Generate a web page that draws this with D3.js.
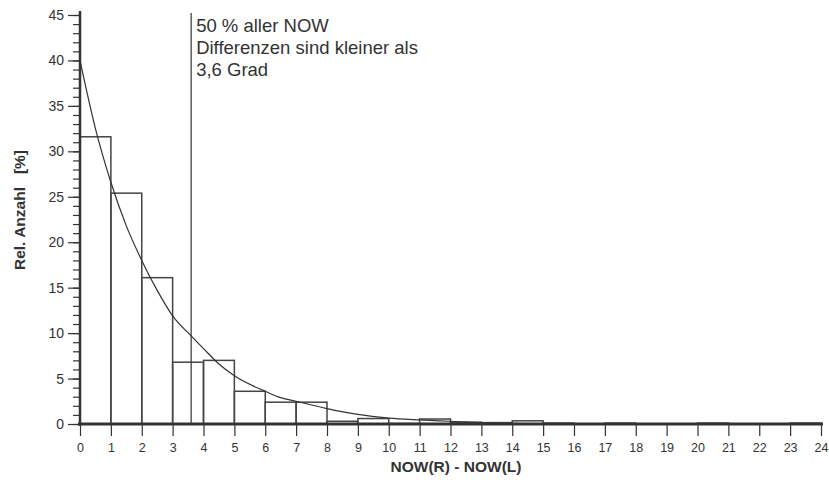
<!DOCTYPE html>
<html><head><meta charset="utf-8">
<script src="https://cdn.jsdelivr.net/npm/d3@7"></script>
<style>
body{margin:0;background:#fff;}
svg{display:block;font-family:"Liberation Sans",Arial,sans-serif;}
</style></head>
<body><svg id="c" width="829" height="480"></svg>
<script>
// bin start values (width 1) and relative counts in %
const binStarts = [0,1,2,3,4,5,6,7,8,9,10,11,12,13,14,15,16,17,18,19,20,21,22,23];
const binValues = [31.6,25.4,16.1,6.8,7.0,3.6,2.4,2.4,0.3,0.6,0.05,0.55,0.2,0.15,0.35,0.1,0,0.1,0,0,0.1,0,0,0.1];
// fitted curve
const curveX = [0,0.5,1,1.5,2,2.5,3,3.6,4,4.5,5,6,6.5,7,8,9,10,11,12,13,14,15,16];
const curveY = [40,32.5,26.6,21.8,18.0,14.7,11.9,9.7,8.3,6.6,5.3,3.6,2.9,2.5,1.7,1.05,0.65,0.45,0.3,0.15,0.07,0.02,0];
const xTicks = d3.range(0,25);
const yMajor = [0,5,10,15,20,25,30,35,40,45];
const yMinor = d3.range(0,46);
const medianX = 3.6;
const annotation = ["50 % aller NOW","Differenzen sind kleiner als","3,6 Grad"];
const xLabel = "NOW(R) - NOW(L)";
const yLabel = "Rel. Anzahl   [%]";

const svg = d3.select("#c");
const x = d3.scaleLinear().domain([0,24]).range([80,821]);
const y = d3.scaleLinear().domain([0,45]).range([424,15]);
const ink = "#333";

// bars
svg.append("g").selectAll("rect").data(binStarts).join("rect")
  .attr("x", d=>x(d)).attr("width", d=>x(d+1)-x(d))
  .attr("y", (d,i)=>y(binValues[i])).attr("height",(d,i)=>y(0)-y(binValues[i]))
  .attr("fill","none").attr("stroke","#444").attr("stroke-width",1.5);

// curve
svg.append("path").datum(curveX.map((d,i)=>[d,curveY[i]]))
  .attr("d", d3.line().x(d=>x(d[0])).y(d=>y(d[1])).curve(d3.curveMonotoneX))
  .attr("fill","none").attr("stroke",ink).attr("stroke-width",1.2);

// median line
svg.append("line").attr("x1",x(medianX)).attr("x2",x(medianX))
  .attr("y1",13).attr("y2",y(0)).attr("stroke",ink).attr("stroke-width",1.2);

svg.append("g").selectAll("text").data(annotation).join("text")
  .attr("x", x(medianX)+5).attr("y",(d,i)=>32+i*22)
  .attr("font-size","18.5px").attr("fill",ink).text(d=>d);

// y axis
const yAxisG = svg.append("g").attr("transform","translate(80,0)");
yAxisG.call(d3.axisLeft(y).tickValues(yMinor).tickSize(7).tickFormat(""))
  .call(g=>g.select(".domain").remove());
yAxisG.selectAll("line").attr("stroke",ink).attr("stroke-width",1.2);
const yMaj = svg.append("g").attr("transform","translate(80,0)")
  .call(d3.axisLeft(y).tickValues(yMajor).tickSize(12).tickPadding(4));
yMaj.select(".domain").remove();
yMaj.selectAll("line").attr("stroke",ink).attr("stroke-width",1.2);
yMaj.attr("font-size",14).attr("font-family","Liberation Sans, Arial, sans-serif");
yMaj.selectAll("text").attr("fill",ink);
svg.append("line").attr("x1",80).attr("x2",80).attr("y1",11).attr("y2",y(0)+2)
  .attr("stroke",ink).attr("stroke-width",2.5);

// x axis
const xAx = svg.append("g").attr("transform",`translate(0,${y(0)})`)
  .call(d3.axisBottom(x).tickValues(xTicks).tickSize(12).tickPadding(7));
xAx.select(".domain").remove();
xAx.selectAll("line").attr("stroke",ink).attr("stroke-width",1.2);
xAx.attr("font-size",12.5).attr("font-family","Liberation Sans, Arial, sans-serif");
xAx.selectAll("text").attr("fill",ink);
svg.append("line").attr("x1",78).attr("x2",823).attr("y1",y(0)).attr("y2",y(0))
  .attr("stroke",ink).attr("stroke-width",3);

// axis titles
svg.append("text").attr("x",456).attr("y",472).attr("text-anchor","middle")
  .attr("font-size","15.5px").attr("font-weight","bold").attr("fill",ink).text(xLabel);
svg.append("text").attr("transform","translate(25,210) rotate(-90)")
  .attr("text-anchor","middle").attr("font-size","15.5px").attr("font-weight","bold")
  .attr("fill",ink).style("white-space","pre").text(yLabel);
</script></body></html>
